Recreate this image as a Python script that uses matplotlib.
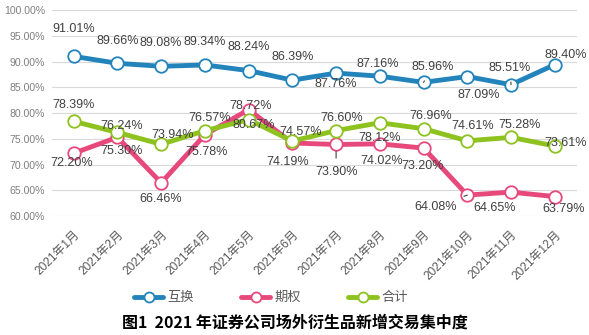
import matplotlib
matplotlib.use("Agg")
import matplotlib.pyplot as plt

plt.rcParams['font.family'] = ['Liberation Sans', 'Noto Sans CJK SC', 'DejaVu Sans']

meses = ["2021年1月", "2021年2月", "2021年3月", "2021年4月", "2021年5月", "2021年6月",
         "2021年7月", "2021年8月", "2021年9月", "2021年10月", "2021年11月", "2021年12月"]
huanhuan = [91.01, 89.66, 89.08, 89.34, 88.24, 86.39, 87.76, 87.16, 85.96, 87.09, 85.51, 89.40]
qiquan = [72.20, 75.30, 66.46, 75.78, 80.67, 74.19, 73.90, 74.02, 73.20, 64.08, 64.65, 63.79]
heji = [78.39, 76.24, 73.94, 76.57, 78.72, 74.57, 76.60, 78.12, 76.96, 74.61, 75.28, 73.61]
yticks = [60, 65, 70, 75, 80, 85, 90, 95, 100]

# deslocamento dos rótulos (pixels) para cada ponto
off_azul = [(0, 27), (0, 22), (0, 23), (0, 23), (0, 24), (0, 23),
            (0, -11), (-2, 12), (9, 15), (11, -18), (-1, 17), (11, 10)]
off_rosa = [(-2, -10), (4, -14), (0, -16), (2, -17), (5, -15), (-5, -19),
            (0, -28), (2, -17), (-1, -18), (-32, -12), (-16, -16), (9, -12)]
off_verde = [(0, 16), (4, 6), (11, 9), (5, 13), (2, 14), (8, 9),
             (6, 13), (0, -15), (7, 13), (5, 15), (9, 12), (11, 3)]
# pontos com linha de chamada
chamada_azul = {8, 10}
chamada_rosa = {6, 9}

c_azul = '#2384bb'
c_rosa = '#e8497c'
c_verde = '#8dc21f'

fig = plt.figure(figsize=(5.89, 3.35), dpi=100)
ax = fig.add_axes([0.088, 0.355, 0.891, 0.615])

x = list(range(len(meses)))
estilo = dict(linewidth=3.5, marker='o', markersize=9, markerfacecolor='white',
              markeredgewidth=1.3, solid_capstyle='round', zorder=3)
ax.plot(x, huanhuan, color=c_azul, label='互换', **estilo)
ax.plot(x, qiquan, color=c_rosa, label='期权', **estilo)
ax.plot(x, heji, color=c_verde, label='合计', **estilo)

def rotular(valores, offs, chamadas):
    for i, v in enumerate(valores):
        dx, dy = offs[i]
        seta = None
        if i in chamadas:
            seta = dict(arrowstyle='-', color='#404040', lw=0.8, shrinkA=4, shrinkB=5)
        ax.annotate(f"{v:.2f}%", (i, v), xytext=(dx, dy), textcoords='offset pixels',
                    ha='center', va='center', fontsize=9, color='#404040',
                    arrowprops=seta, zorder=5)

rotular(huanhuan, off_azul, chamada_azul)
rotular(qiquan, off_rosa, chamada_rosa)
rotular(heji, off_verde, set())

ax.set_xlim(-0.5, len(meses) - 0.5)
ax.set_ylim(60, 100)
ax.set_yticks(yticks)
ax.set_yticklabels([f"{t:.2f}%" for t in yticks], fontsize=7.6, color='#7f7f7f')
ax.set_xticks(x)
ax.set_xticklabels(meses, rotation=45, ha='right', rotation_mode='anchor',
                   fontsize=8.6, color='#595959')
ax.tick_params(axis='y', length=0, pad=5)
ax.tick_params(axis='x', length=0, pad=9)
ax.grid(axis='y', color='#d9d9d9', linewidth=0.8)
ax.set_axisbelow(True)
for s in ax.spines.values():
    s.set_visible(False)

fig.legend(loc='center', bbox_to_anchor=(0.46, 0.11), ncol=3, frameon=False,
           fontsize=9.5, labelcolor='#595959', handlelength=2.2, columnspacing=3.6,
           handletextpad=0.3, markerscale=0.8)

fig.text(0.5, 0.036, "图1  2021 年证券公司场外衍生品新增交易集中度", ha='center', va='center',
         fontsize=11.5, fontweight='bold', family=['Noto Sans CJK SC', 'DejaVu Sans'])

plt.savefig("out.png", dpi=100)
plt.close()
